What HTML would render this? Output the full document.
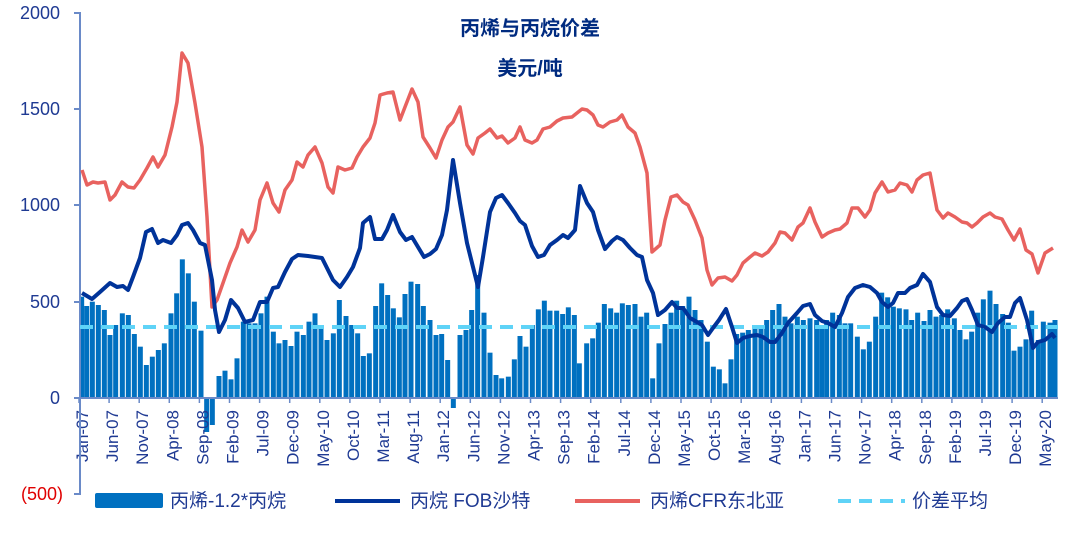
<!DOCTYPE html>
<html><head><meta charset="utf-8"><style>
body{margin:0;background:#fff;}
svg{display:block;font-family:"Liberation Sans","Noto Sans CJK SC",sans-serif;}
</style></head><body>
<svg id="s" width="1080" height="537" viewBox="0 0 1080 537">
<text x="530" y="35" text-anchor="middle" font-size="20" font-weight="bold" fill="#002b80">丙烯与丙烷价差</text>
<text x="530" y="75" text-anchor="middle" font-size="20" font-weight="bold" fill="#002b80">美元/吨</text>
<g id="bars"></g>
<line x1="80" y1="398" x2="1058" y2="398" stroke="#6a8ac8" stroke-width="2"/>
<g id="xt"></g>
<line x1="80" y1="12" x2="80" y2="495" stroke="#6a8ac8" stroke-width="2"/>
<g stroke="#6a8ac8" stroke-width="2">
<line x1="74" y1="13" x2="80" y2="13"/><line x1="74" y1="109" x2="80" y2="109"/><line x1="74" y1="205" x2="80" y2="205"/><line x1="74" y1="302" x2="80" y2="302"/><line x1="74" y1="398" x2="80" y2="398"/><line x1="74" y1="494" x2="80" y2="494"/>
</g>
<g font-size="18" fill="#1f3a93" text-anchor="end">
<text x="60" y="19">2000</text><text x="60" y="115">1500</text><text x="60" y="211">1000</text><text x="60" y="308">500</text><text x="60" y="404">0</text><text x="63" y="500" fill="#e00000">(500)</text>
</g>
<line x1="80" y1="327" x2="1058" y2="327" stroke="#5fd3f7" stroke-width="4" stroke-dasharray="13,8"/>
<polyline fill="none" stroke="#e8625f" stroke-width="3.5" stroke-linejoin="round" points="82,170 87,185 93,182 98,183 105,182 110,200 115,195 122,182 128,187 134,188 140,180 147,168 153,157 158,167 165,155 172,127 177,102 182,53 188,63 195,103 202,147 207,217 212,307 217,300 223,283 230,263 237,247 242,230 248,242 255,230 260,200 267,183 273,203 279,212 285,190 292,180 297,162 303,167 308,155 315,147 322,163 328,187 333,193 338,167 345,170 352,168 357,157 363,147 370,138 375,123 380,95 387,93 393,92 400,120 405,107 412,89 418,102 423,137 430,148 436,158 442,140 448,127 453,122 460,107 467,145 473,154 478,138 485,133 490,129 497,138 502,136 508,143 515,138 520,127 525,140 532,143 537,140 543,129 550,127 557,121 563,118 572,117 582,109 587,110 593,115 598,125 603,127 610,122 617,120 622,115 628,127 635,133 640,147 647,173 652,252 660,245 665,220 671,197 677,195 683,202 688,205 695,220 702,238 707,270 712,285 718,278 725,277 732,281 737,275 743,263 750,257 755,253 762,256 768,252 775,243 780,232 785,233 792,240 798,227 803,223 810,208 815,222 822,237 828,233 835,230 840,229 847,223 852,208 858,208 865,217 870,210 875,193 882,182 888,192 895,190 900,183 907,185 912,192 917,180 923,175 930,173 937,210 943,218 948,213 955,217 962,222 967,223 972,227 977,223 983,217 990,213 995,217 1002,219 1008,230 1014,240 1020,229 1026,250 1032,254 1038,273 1045,253 1053,248"/>
<polyline fill="none" stroke="#003399" stroke-width="4" stroke-linejoin="round" points="82,293 92,299 100,292 110,283 117,287 123,286 128,290 133,277 140,258 146,232 152,229 158,243 163,240 171,243 177,235 182,225 188,223 193,230 200,243 205,245 212,280 215,310 219,332 225,320 231,300 238,308 245,322 253,320 260,302 267,302 273,288 278,287 285,272 292,259 298,255 308,256 322,258 327,268 333,280 340,287 347,277 353,267 360,248 363,223 370,217 375,239 382,239 387,230 393,215 400,232 406,240 412,237 418,247 424,257 430,254 436,249 442,235 447,210 453,160 460,203 467,243 473,267 478,287 483,257 490,212 496,198 502,195 508,203 515,213 520,221 525,225 532,246 538,257 544,255 550,245 557,240 563,235 568,238 575,230 580,186 587,203 593,212 598,230 605,249 612,241 617,237 623,240 630,248 637,255 642,257 647,280 653,293 658,315 665,310 672,302 677,308 683,308 690,318 697,322 702,325 708,335 713,328 719,320 726,309 732,327 737,343 743,338 750,336 757,335 763,337 770,342 775,342 782,333 788,323 797,313 803,306 810,304 815,315 822,321 828,323 835,327 842,313 848,297 855,288 863,285 870,287 877,293 882,302 888,307 893,303 898,293 905,293 910,288 917,285 923,274 930,282 937,307 943,315 950,316 957,308 962,301 967,299 972,310 978,325 985,327 992,332 998,323 1005,317 1010,317 1015,303 1020,298 1027,320 1033,348 1038,342 1045,340 1052,334 1055,338"/>
<rect x="95" y="493" width="68" height="15" rx="2" fill="#0070c0"/>
<text x="170" y="507" font-size="19" fill="#1f3a93">丙烯-1.2*丙烷</text>
<line x1="335" y1="501" x2="400" y2="501" stroke="#003399" stroke-width="4"/>
<text x="410" y="507" font-size="19" fill="#1f3a93">丙烷 FOB沙特</text>
<line x1="575" y1="501" x2="640" y2="501" stroke="#e8625f" stroke-width="4"/>
<text x="650" y="507" font-size="19" fill="#1f3a93">丙烯CFR东北亚</text>
<line x1="838" y1="501" x2="905" y2="501" stroke="#5fd3f7" stroke-width="4" stroke-dasharray="13,8"/>
<text x="912" y="507" font-size="19" fill="#1f3a93">价差平均</text>
</svg>
<script>
var ns="http://www.w3.org/2000/svg";
var z3=[[20,800],[35,828],[52,815],[70,825],[88,840],[105,915],[122,885],[142,850],[160,855],[178,912],[196,950],[214,1005],[232,980],[250,960],[268,940],[288,850],[305,790],[322,688],[340,730],[358,815],[378,902],[395,-432],[412,-425],[432,1038],[450,1022],[468,1048],[486,985],[505,875],[522,880],[540,880],[558,850],[576,800],[595,905],[612,940],[630,930],[648,948],[666,905],[685,915],[702,875],[720,850],[738,895],[756,930],[775,910]];
var z4=[[58,810],[78,858],[95,885],[113,910],[130,978],[148,970],[167,828],[185,760],[203,795],[220,835],[238,862],[255,792],[273,755],[293,762],[310,828],[330,870],[348,915],[365,912],[383,990],[400,-408],[420,915],[438,900],[455,840],[473,735],[492,848],[510,968],[528,1035],[545,1045],[565,1040],[583,988],[600,918],[618,950],[637,885],[655,838],[673,812],[690,842],[710,842],[728,852],[745,832],[763,855],[778,1000]];
var z5=[[65,940],[83,925],[100,878],[118,822],[137,835],[155,848],[172,820],[190,825],[210,822],[228,860],[245,848],[263,1045],[282,940],[300,882],[318,848],[335,812],[353,828],[372,800],[390,840],[408,870],[427,935],[445,1010],[463,1018],[480,1060],[498,988],[515,912],[533,908],[550,900],[570,892],[588,895],[605,870],[623,840],[642,822],[660,860],[678,880],[697,860],[715,870],[735,865],[755,870],[770,885]];
var z6=[[50,870],[68,848],[88,855],[105,880],[122,880],[142,920],[160,958],[178,935],[197,860],[215,788],[233,802],[250,830],[268,835],[288,838],[305,870],[323,848],[342,873],[360,840],[378,860],[395,855],[413,838],[433,865],[450,900],[468,928],[485,905],[503,848],[520,808],[540,782],[558,822],[578,852],[595,878],[612,962],[630,950],[648,928],[665,842],[685,930],[700,875],[720,878],[735,870]];
var all=[];
function add(a,ox){a.forEach(function(p){var x=ox+p[0]/3;var y=p[1]<0?-p[1]:30+p[1]/3;all.push([x,y,p[1]<0]);});}
add(z3,75);add(z4,320);add(z5,565);add(z6,810);
var g=document.getElementById("bars");
all.forEach(function(b){var r=document.createElementNS(ns,"rect");var x=b[0]-2.5;var y,h;
if(b[2]){y=398;h=b[1]-398;}else{y=b[1];h=398-b[1];}
r.setAttribute("x",x);r.setAttribute("y",y);r.setAttribute("width",5);r.setAttribute("height",h);r.setAttribute("fill","#0070c0");g.appendChild(r);});
var mn=["Jan","Feb","Mar","Apr","May","Jun","Jul","Aug","Sep","Oct","Nov","Dec"];
var xt=document.getElementById("xt");
for(var k=0;k<=160;k+=5){var m=k%12,yr=7+Math.floor(k/12);var x=82+6.02*k;
var t=document.createElementNS(ns,"text");t.setAttribute("transform","translate("+(x+6)+",410) rotate(-90)");
t.setAttribute("text-anchor","end");t.setAttribute("font-size","17");t.setAttribute("fill","#1f3a93");
t.textContent=mn[m]+"-"+(yr<10?"0"+yr:yr);xt.appendChild(t);
var l=document.createElementNS(ns,"line");l.setAttribute("x1",x-3);l.setAttribute("x2",x-3);l.setAttribute("y1",398);l.setAttribute("y2",403);l.setAttribute("stroke","#6a8ac8");l.setAttribute("stroke-width","1.5");xt.appendChild(l);}
</script>
</body></html>
